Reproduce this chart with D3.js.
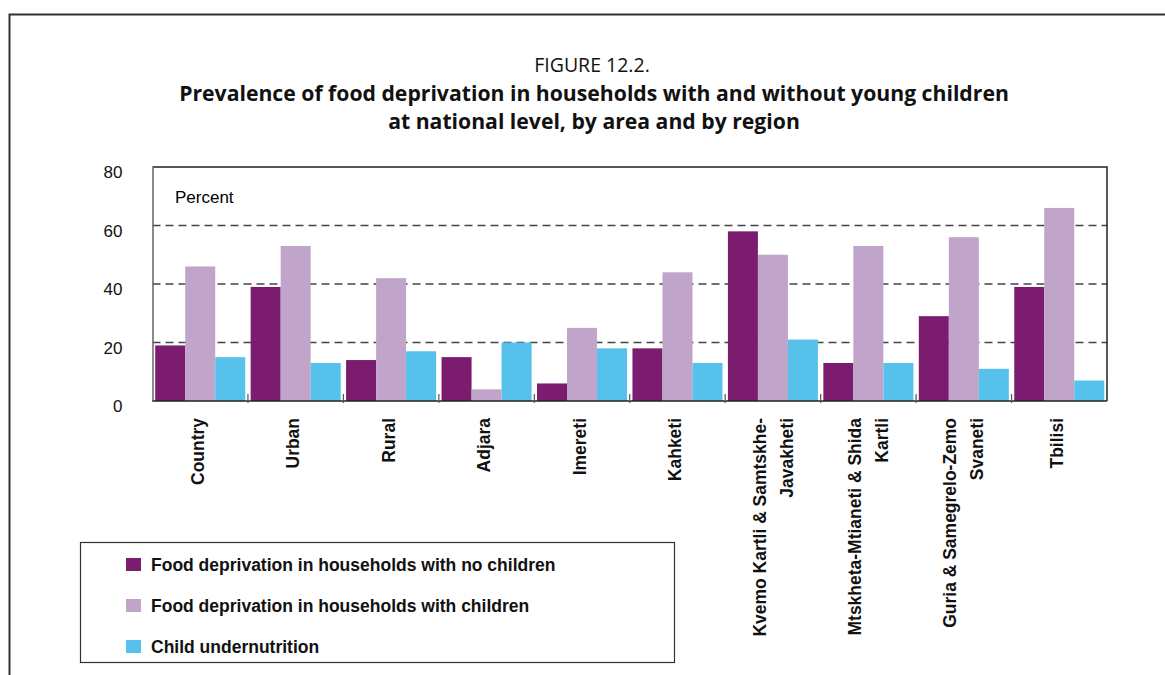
<!DOCTYPE html>
<html>
<head>
<meta charset="utf-8">
<script src="https://cdn.jsdelivr.net/npm/d3@7"></script>
<style>
  body { margin: 0; background: #fff; }
  svg { display: block; }
  .ttl { font-family: "Open Sans", sans-serif; fill: #111; }
  .ax text { font-family: "Liberation Sans", Arial, sans-serif; font-size: 17px; fill: #111; }
  .xl { font-family: "Liberation Sans", Arial, sans-serif; font-weight: bold; font-size: 19px; fill: #111; }
  .lg { font-family: "Liberation Sans", Arial, sans-serif; font-weight: bold; font-size: 17.5px; fill: #111; }
</style>
</head>
<body>
<svg id="chart" width="1165" height="675"></svg>
<script>
// categories (second line where the label wraps)
var categories=[
  ["Country"],["Urban"],["Rural"],["Adjara"],["Imereti"],["Kahketi"],
  ["Kvemo Kartli & Samtskhe-","Javakheti"],
  ["Mtskheta-Mtianeti & Shida","Kartli"],
  ["Guria & Samegrelo-Zemo","Svaneti"],
  ["Tbilisi"]];
var seriesNames=["Food deprivation in households with no children",
  "Food deprivation in households with children",
  "Child undernutrition"];
var noChildren=[19,39,14,15,6,18,58,13,29,39];
var withChildren=[46,53,42,4,25,44,50,53,56,66];
var undernutrition=[15,13,17,20,18,13,21,13,11,7];
var yTicks=[0,20,40,60,80];
var colors=["#7b1c6e","#c0a4ca","#56c2ec"];

function draw() {
  var svg=d3.select("#chart");
  var x0=152.5, x1=1107, yTop=167, yBot=401;
  var series=[noChildren,withChildren,undernutrition];

  // outer frame
  svg.append("path")
    .attr("d","M9.5,675V14.5H1165")
    .attr("fill","none").attr("stroke","#333").attr("stroke-width",2);

  // titles
  svg.append("text").attr("class","ttl").attr("x",592).attr("y",72)
    .attr("text-anchor","middle").style("font-size","19.5px").text("FIGURE 12.2.");
  svg.append("text").attr("class","ttl").attr("x",594).attr("y",101)
    .attr("text-anchor","middle").style("font-size","21.2px").style("font-weight","bold")
    .text("Prevalence of food deprivation in households with and without young children");
  svg.append("text").attr("class","ttl").attr("x",594).attr("y",129)
    .attr("text-anchor","middle").style("font-size","21.2px").style("font-weight","bold")
    .text("at national level, by area and by region");

  var x=d3.scaleBand().domain(d3.range(categories.length)).range([x0,x1]).padding(0);
  var xs=d3.scaleBand().domain(d3.range(series.length)).range([0,x.bandwidth()])
    .paddingInner(0).paddingOuter(0.09);
  var y=d3.scaleLinear().domain([0,80]).range([yBot,yTop]);

  // dashed grid
  svg.append("g").selectAll("line").data([20,40,60]).join("line")
    .attr("x1",x0).attr("x2",x1)
    .attr("y1",d=>y(d)).attr("y2",d=>y(d))
    .attr("stroke","#444").attr("stroke-width",1.5).attr("stroke-dasharray","8,5");

  // bars
  series.forEach(function(vals,s) {
    svg.append("g").selectAll("rect").data(vals).join("rect")
      .attr("x",(d,i)=>x(i)+xs(s))
      .attr("width",xs.bandwidth())
      .attr("y",d=>y(d))
      .attr("height",d=>yBot-y(d))
      .attr("fill",colors[s]);
    });

  // plot border top + right
  svg.append("path")
    .attr("d","M"+x0+","+yTop+"H"+x1+"V"+yBot)
    .attr("fill","none").attr("stroke","#222").attr("stroke-width",1.5);

  // y axis
  var ya=svg.append("g").attr("class","ax").attr("transform","translate("+x0+",0)")
    .call(d3.axisLeft(y).tickValues(yTicks).tickSize(0).tickPadding(30));
  ya.select(".domain").attr("stroke","#666").attr("stroke-width",1.5);
  ya.selectAll("text").attr("dy","0.62em");

  // x baseline + ticks between groups
  svg.append("line").attr("x1",x0).attr("x2",x1).attr("y1",yBot).attr("y2",yBot)
    .attr("stroke","#222").attr("stroke-width",1.5);
  svg.append("g").selectAll("line").data(d3.range(1,categories.length)).join("line")
    .attr("x1",d=>x(d)).attr("x2",d=>x(d))
    .attr("y1",yBot+2).attr("y2",yBot-7)
    .attr("stroke","#555").attr("stroke-width",1.2);

  // "Percent"
  svg.append("text").attr("class","ax").attr("x",175).attr("y",203)
    .style("font-family","'Liberation Sans', Arial, sans-serif").style("font-size","17px")
    .text("Percent");

  // rotated category labels, condensed along the text direction
  var lab=svg.append("g");
  categories.forEach(function(lines,i) {
    var c=x(i)+x.bandwidth()/2;
    lines.forEach(function(t,k) {
      var off=lines.length==1 ? -3 : (k==0 ? -14 : 13);
      lab.append("text").attr("class","xl")
        .attr("transform","translate("+(c+off)+",418) rotate(-90) scale(0.92,1)")
        .attr("dy","0.35em").attr("text-anchor","end").text(t);
      });
    });

  // legend
  var lg=svg.append("g");
  lg.append("rect").attr("x",80.5).attr("y",542.5).attr("width",594).attr("height",120)
    .attr("fill","#fff").attr("stroke","#333").attr("stroke-width",1.2);
  seriesNames.forEach(function(n,s) {
    var yy=558+s*41;
    lg.append("rect").attr("x",126).attr("y",yy).attr("width",15).attr("height",13)
      .attr("fill",colors[s]);
    lg.append("text").attr("class","lg").attr("x",151).attr("y",yy+13).text(n);
    });
  };

draw();
</script>
</body>
</html>
